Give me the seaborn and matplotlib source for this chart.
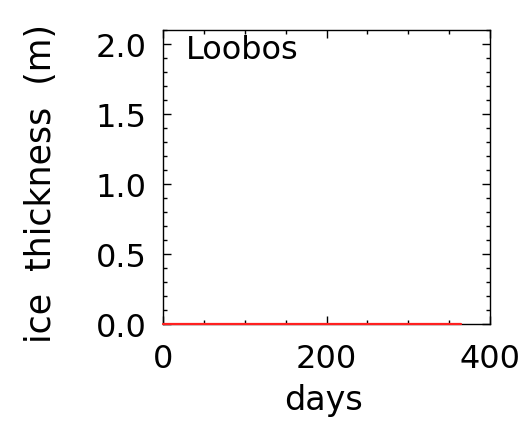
import matplotlib
matplotlib.use("Agg")
import matplotlib.pyplot as plt
import seaborn as sns
import pandas as pd
from matplotlib.ticker import MultipleLocator

# Data: ice thickness stays at zero all year
days = [0, 365]
thickness = [0.0, 0.0]
site = "Loobos"
x_ticks = [0, 200, 400]
y_ticks = [0.0, 0.5, 1.0, 1.5, 2.0]

df = pd.DataFrame({"days": days, "thickness": thickness})

sns.set_theme(style="ticks")
plt.rcParams['font.family'] = ['DejaVu Sans']
plt.rcParams['text.color'] = 'black'
plt.rcParams['axes.labelcolor'] = 'black'
plt.rcParams['xtick.color'] = 'black'
plt.rcParams['ytick.color'] = 'black'

FS = 23

fig = plt.figure(figsize=(5.32, 4.35), dpi=100)
ax = fig.add_axes([163/532, 1 - 325/435, (490-163)/532, (325-31)/435])

sns.lineplot(data=df, x="days", y="thickness", ax=ax, color="#ff2020",
             linewidth=1.6, clip_on=False, zorder=5)

ax.set_xlim(0, 400)
ax.set_ylim(0, 2.1)
ax.set_xticks(x_ticks)
ax.set_xticklabels([str(v) for v in x_ticks])
ax.set_yticks(y_ticks)
ax.set_yticklabels([f"{v:.1f}" for v in y_ticks])
ax.xaxis.set_minor_locator(MultipleLocator(50))
ax.yaxis.set_minor_locator(MultipleLocator(0.1))
ax.tick_params(which="both", direction="in", top=True, right=True,
               color="black", width=1, labelcolor="black")
ax.tick_params(which="major", length=6, labelsize=FS)
ax.tick_params(axis="y", which="major", pad=12)
ax.tick_params(axis="x", which="major", pad=14)
ax.tick_params(which="minor", length=3)
for s in ax.spines.values():
    s.set_color("black")
    s.set_linewidth(1)

ax.set_xlabel("days", fontsize=FS + 1, color="black")
ax.xaxis.set_label_coords(0.49, -0.2)
ax.set_ylabel("ice  thickness  (m)", fontsize=FS + 2, color="black")
ax.yaxis.set_label_coords(-0.32, 0.48)
ax.text(0.07, 0.985, site, transform=ax.transAxes, fontsize=FS,
        va="top", ha="left", color="black")

fig.savefig("out.png", dpi=100, facecolor="white")
